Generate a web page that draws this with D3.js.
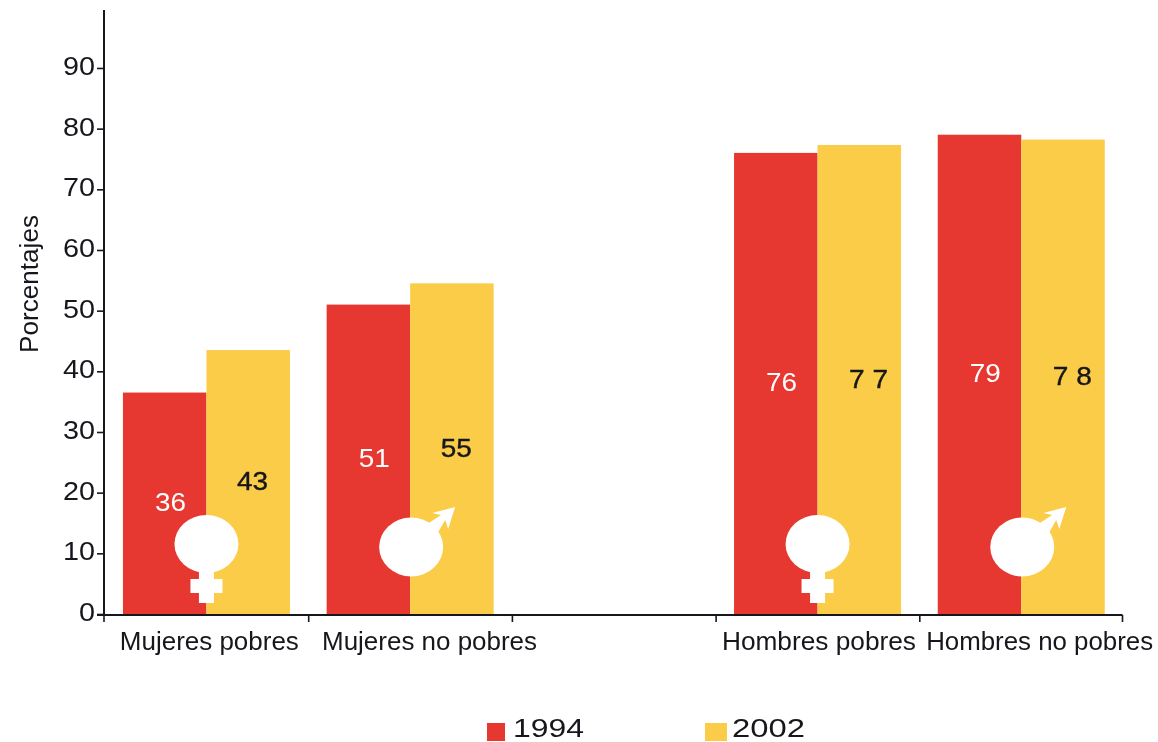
<!DOCTYPE html>
<html><head><meta charset="utf-8">
<script src="https://cdn.jsdelivr.net/npm/d3@7"></script>
<style>html,body{margin:0;padding:0;background:#fff}svg{display:block;filter:blur(0.5px)}text{font-family:"Liberation Sans",Arial,sans-serif}</style>
</head><body><div id="c"></div>
<script>
const categories=["Mujeres pobres","Mujeres no pobres","","Hombres pobres","Hombres no pobres"];
const values1994=[36.5,51,null,76,79];
const values2002=[43.5,54.5,null,77.3,78.2];
const labels1994=["36","51",null,"76","79"];
const labels2002=["43","55",null,"7 7","7 8"];
const symbols=["f","m",null,"f","m"];
const yTicks=[0,10,20,30,40,50,60,70,80,90];
const legendYears=["1994","2002"];
const RED="#e63731",YEL="#facc47",INK="#16161c";
const svg=d3.select("#c").append("svg").attr("width",1158).attr("height",742);
const y=d3.scaleLinear().domain([0,100]).range([614,7.3]);
const x=d3.scaleBand().domain(d3.range(5)).range([104,1122.5]);
const bw=x.bandwidth();
const yAxis=d3.axisLeft(y).tickValues(yTicks).tickSize(7).tickPadding(2);
const gy=svg.append("g").attr("transform","translate(104,0)").call(yAxis);
gy.select(".domain").attr("d","M0,10V615").attr("stroke",INK).attr("stroke-width",2);
gy.selectAll(".tick line").attr("stroke",INK).attr("stroke-width",1.6);
gy.selectAll("text").attr("font-size",25).attr("fill",INK).attr("dy","0.26em")
  .attr("textLength",d=>d===0?16:32).attr("lengthAdjust","spacingAndGlyphs");
const xAxis=svg.append("g").attr("transform","translate(0,615)");
xAxis.append("line").attr("x1",97).attr("x2",1122.5).attr("stroke",INK).attr("stroke-width",2);
d3.range(6).forEach(i=>{const px=i<5?x(i)+(i>0?1:0):1122.5;xAxis.append("line").attr("x1",px).attr("x2",px).attr("y2",7).attr("stroke",INK).attr("stroke-width",1.6);});
const catWidths=[179,215,0,194,227], catShift=[3.5,20,0,2,19];
categories.forEach((c,i)=>{if(c)svg.append("text").attr("x",x(i)+bw/2+catShift[i]).attr("y",650).attr("text-anchor","middle").attr("font-size",26).attr("fill",INK).attr("textLength",catWidths[i]).attr("lengthAdjust","spacingAndGlyphs").text(c)});
svg.append("text").attr("transform","translate(38,284) rotate(-90)").attr("text-anchor","middle").attr("font-size",25).attr("fill",INK).attr("textLength",138).attr("lengthAdjust","spacingAndGlyphs").text("Porcentajes");
const barW=83.5;
categories.forEach((c,i)=>{ if(values1994[i]==null)return;
 const cx=x(i)+bw/2+0.6;
 svg.append("rect").attr("x",cx-barW).attr("width",barW).attr("y",y(values1994[i])).attr("height",y(0)-y(values1994[i])).attr("fill",RED);
 svg.append("rect").attr("x",cx).attr("width",barW).attr("y",y(values2002[i])).attr("height",y(0)-y(values2002[i])).attr("fill",YEL);
 svg.append("text").attr("x",cx-36).attr("y",y(values1994[i]/2)+8).attr("text-anchor","middle").attr("font-size",26).attr("fill","#fff").attr("textLength",31).attr("lengthAdjust","spacingAndGlyphs").text(labels1994[i]);
 const spaced=labels2002[i].length>2;
 svg.append("text").attr("x",cx+(spaced?51:46)).attr("y",y(values2002[i]/2)+8).attr("text-anchor","middle").attr("font-size",26).attr("fill",INK).attr("stroke",INK).attr("stroke-width",0.4).attr("textLength",spaced?39:31).attr("lengthAdjust","spacingAndGlyphs").text(labels2002[i]);
 const g=svg.append("g").attr("fill","#fff").attr("stroke","none");
 if(symbols[i]==="f"){
  g.append("ellipse").attr("cx",cx).attr("cy",544).attr("rx",32).attr("ry",29);
  g.append("rect").attr("x",cx-7.5).attr("y",568).attr("width",15).attr("height",35);
  g.append("rect").attr("x",cx-16).attr("y",579).attr("width",32).attr("height",14);
 } else {
  g.append("ellipse").attr("cx",cx+1).attr("cy",547).attr("rx",32).attr("ry",29.5);
  g.append("path").attr("d",`M${cx+17},524 L${cx+31},515 L${cx+22},513 L${cx+45},507 L${cx+38},529 L${cx+35},520 L${cx+27},534Z`);
 }
});
const lg=[[487,RED,71,18],[705,YEL,73,22]];
legendYears.forEach((t,i)=>{
 svg.append("rect").attr("x",lg[i][0]).attr("y",723).attr("width",lg[i][3]).attr("height",18).attr("fill",lg[i][1]);
 svg.append("text").attr("x",i?732:513).attr("y",737).attr("font-size",26.5).attr("fill",INK).attr("textLength",lg[i][2]).attr("lengthAdjust","spacingAndGlyphs").text(t);
});
</script></body></html>
